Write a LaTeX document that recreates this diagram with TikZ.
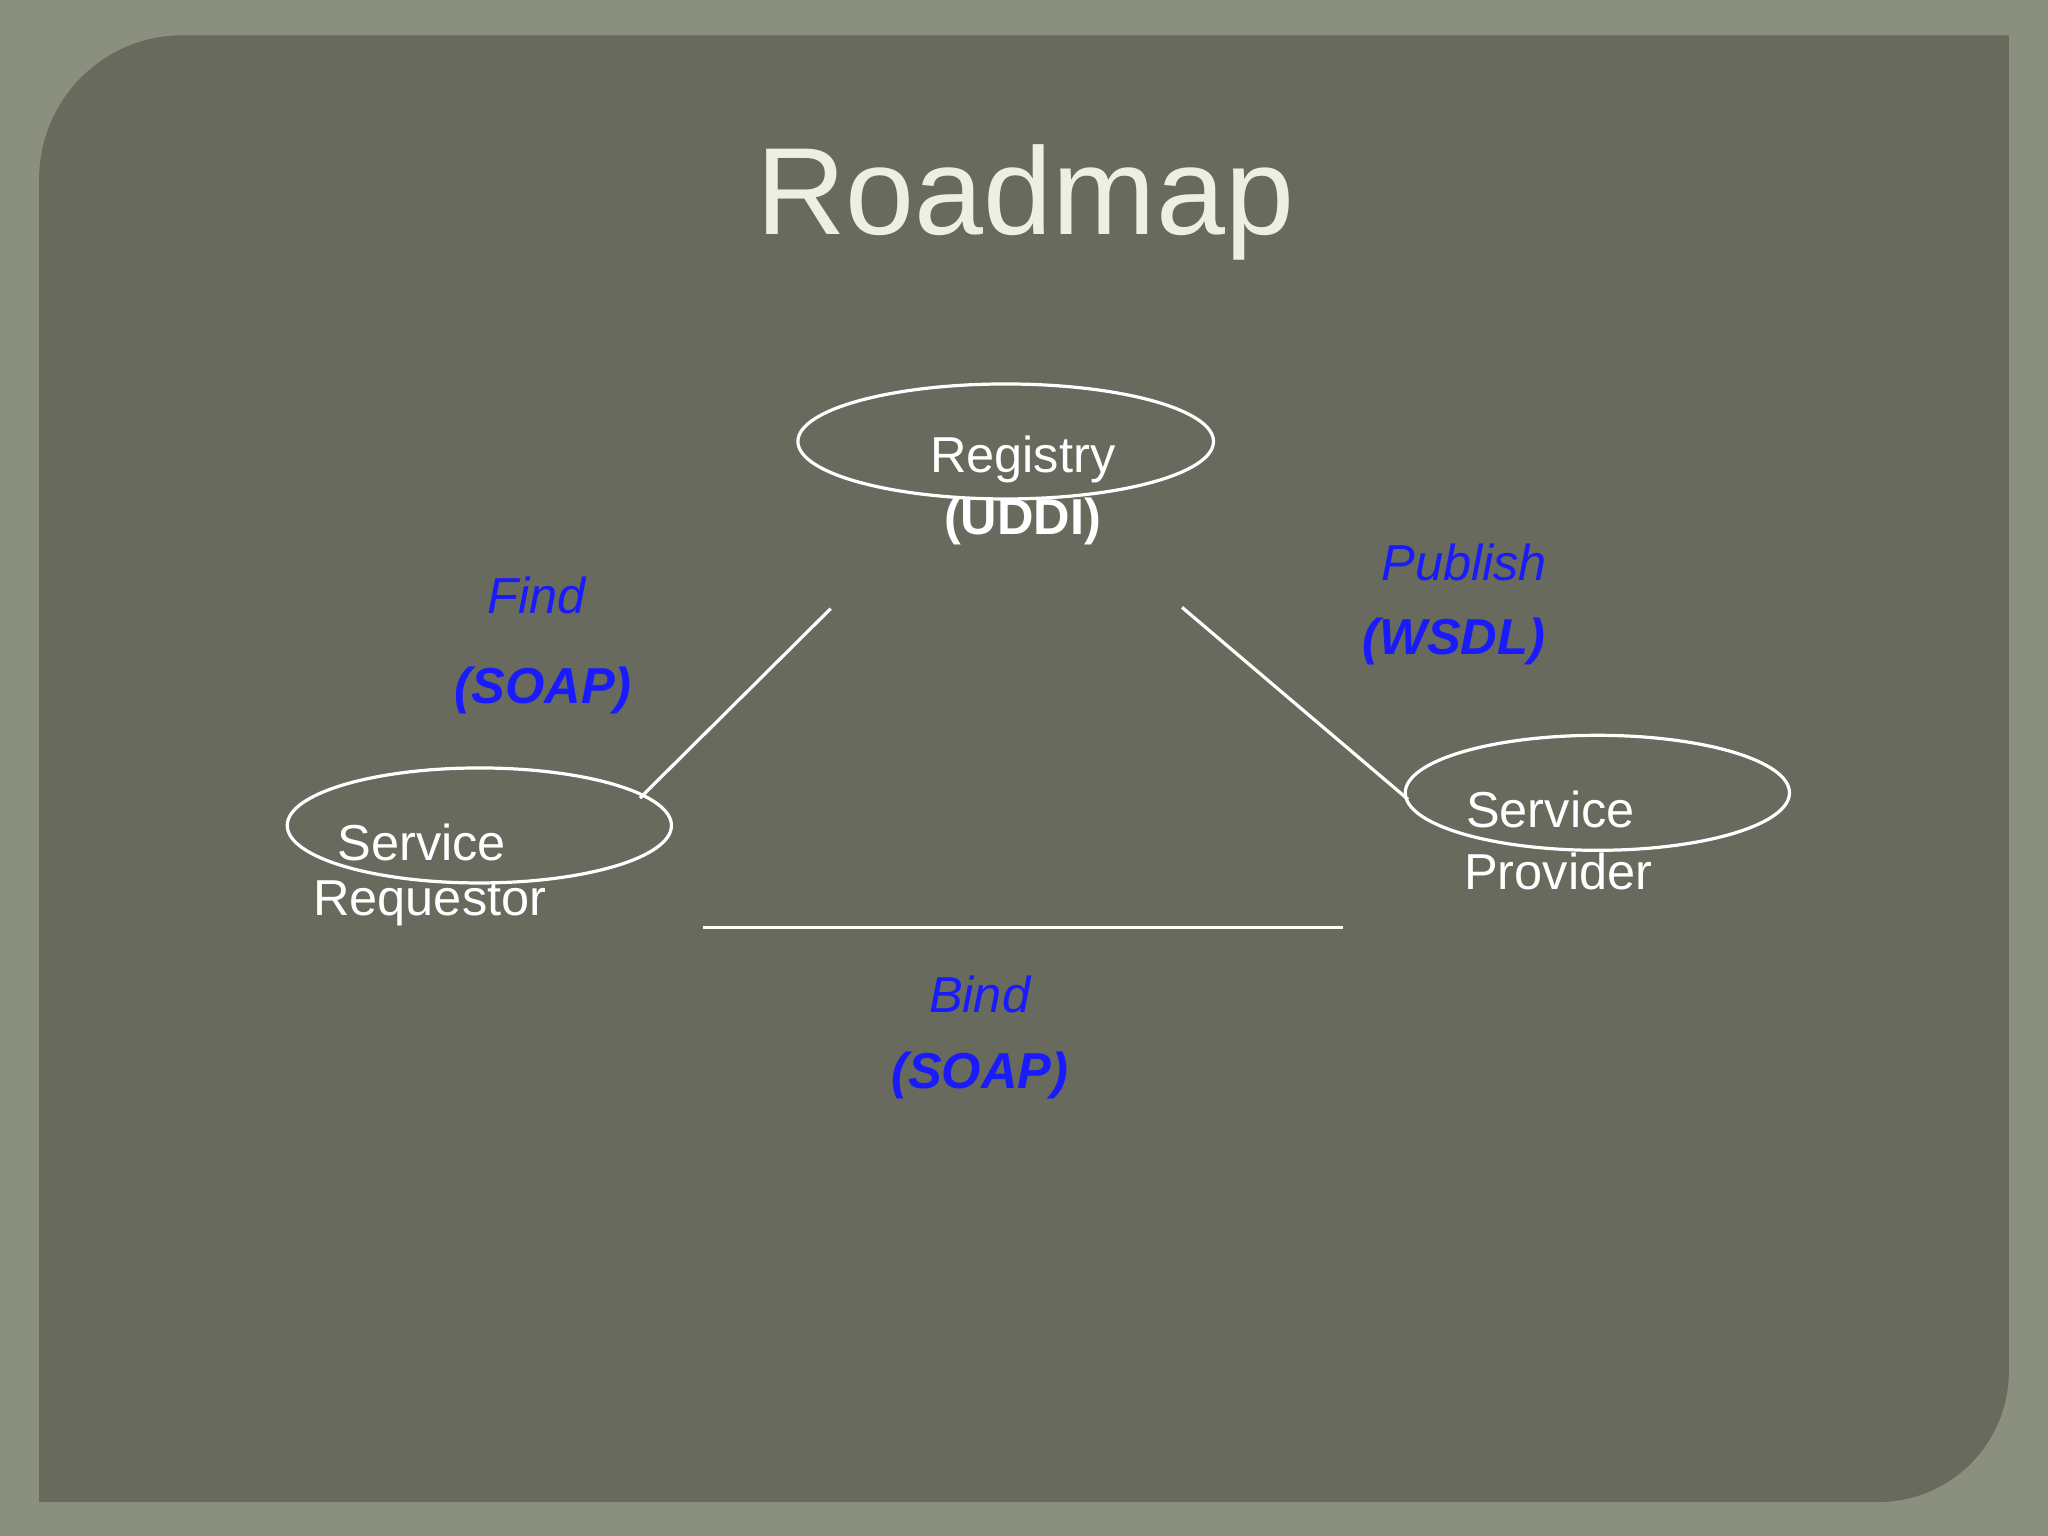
\documentclass[tikz,border=0pt]{standalone}
\usepackage{fontspec}
\setmainfont{Liberation Sans}
\usetikzlibrary{shapes.geometric}
\definecolor{frame}{HTML}{8A8F7E}
\definecolor{panel}{HTML}{676A5C}
\definecolor{ttl}{HTML}{EEEEE2}
\definecolor{lbl}{HTML}{1A1AFF}
\begin{document}
\begin{tikzpicture}[x=0.01cm,y=-0.01cm,
  ell/.style={draw=white,line width=0.7pt,ellipse,inner sep=0pt,minimum height=0.88cm},
  wt/.style={text=white,font=\fontsize{11}{12}\selectfont},
  bl/.style={text=lbl,font=\fontsize{11}{12}\selectfont\itshape},
  conn/.style={draw=white,line width=0.7pt}]
\fill[frame] (0,0) rectangle (1568,1176);
\useasboundingbox (0,0) rectangle (1568,1176);
\fill[panel] (30,1150) -- (30,137) arc[start angle=180,end angle=270,radius=110] -- (1538,27) -- (1538,1050) arc[start angle=0,end angle=90,radius=100] -- cycle;
\node[text=ttl,font=\fontsize{27}{32}\selectfont] (title) at (785,155) {Roadmap};
\node[ell,minimum width=3.18cm] (e1) at (770,338) {};
\node[ell,minimum width=2.94cm] (e2) at (367,632) {};
\node[ell,minimum width=2.94cm] (e3) at (1223,607) {};
\node[wt] (reg) at (783,352) {Registry};
\node[wt,font=\fontsize{11}{12}\selectfont\bfseries] (uddi) at (783,399) {(UDDI)};
\node[wt] (sr1) at (323,645) {Service};
\node[wt] (sr2) at (329,692) {Requestor};
\node[wt] (sp1) at (1187,620) {Service};
\node[wt] (sp2) at (1193,667) {Provider};
\coordinate (a1) at (636,466); \coordinate (a2) at (490,611);
\coordinate (b1) at (905,465); \coordinate (b2) at (1078,612);
\coordinate (c1) at (538,710); \coordinate (c2) at (1028,710);
\draw[conn] (a1) -- (a2);
\draw[conn] (b1) -- (b2);
\draw[conn] (c1) -- (c2);
\node[bl] (find) at (411,456) {Find};
\node[bl,font=\fontsize{11}{12}\selectfont\bfseries\itshape] (soap1) at (416,529) {(SOAP)};
\node[bl] (pub) at (1121,431) {Publish};
\node[bl,font=\fontsize{11}{12}\selectfont\bfseries\itshape] (wsdl) at (1113,491) {(WSDL)};
\node[bl] (bind) at (750,761) {Bind};
\node[bl,font=\fontsize{11}{12}\selectfont\bfseries\itshape] (soap2) at (750,823) {(SOAP)};
\end{tikzpicture}
\end{document}
